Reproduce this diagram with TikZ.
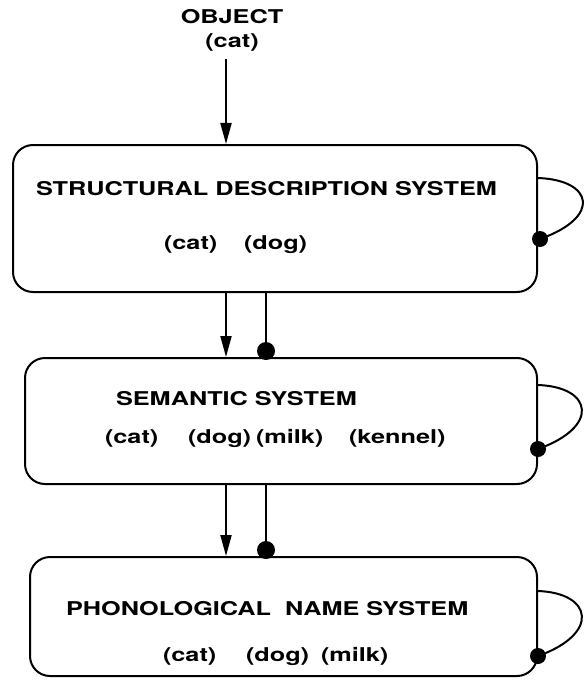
\documentclass[tikz,border=0pt]{standalone}
\usepackage{fontspec}
\setmainfont{TeX Gyre Heros}[FakeStretch=1.33]
\usetikzlibrary{arrows.meta,calc}
\begin{document}
\begin{tikzpicture}[x=1pt,y=-1pt,line width=2pt,
  box/.style={draw,rounded corners=20pt,inner sep=0pt},
  lbl/.style={font=\bfseries\fontsize{19}{21}\selectfont,inner sep=0pt,anchor=base west},
  arr/.style={-{Triangle[length=21pt,width=11pt]}},
  dotc/.style={fill=black,draw=none}]
\useasboundingbox (0,0) rectangle (584,682);
% boxes
\node[box,minimum width=524pt,minimum height=147pt] (b1) at (275,218.5) {};
\node[box,minimum width=512pt,minimum height=126pt] (b2) at (281,421) {};
\node[box,minimum width=507pt,minimum height=119pt] (b3) at (283.5,616.5) {};
% texts
\node[lbl,anchor=base] (obj) at (232,24) {OBJECT};
\node[lbl,anchor=base] (objc) at (232,48) {(cat)};
\node[lbl] (t1) at (35,195) {STRUCTURAL DESCRIPTION SYSTEM};
\node[lbl] (c1a) at (163,249) {(cat)};
\node[lbl] (c1b) at (243,249) {(dog)};
\node[lbl] (t2) at (115,405) {SEMANTIC SYSTEM};
\node[lbl] (c2a) at (104,443) {(cat)};
\node[lbl] (c2b) at (187,443) {(dog)};
\node[lbl] (c2c) at (255,443) {(milk)};
\node[lbl] (c2d) at (348,443) {(kennel)};
\node[lbl] (t3) at (65,615) {PHONOLOGICAL\ \ NAME SYSTEM};
\node[lbl] (c3a) at (162,661) {(cat)};
\node[lbl] (c3b) at (245,661) {(dog)};
\node[lbl] (c3c) at (320,661) {(milk)};
% connector columns
\coordinate (ax) at (226,0);
\coordinate (dx) at (266,0);
\draw[arr,shorten <=6pt] (objc.south -| ax) -- (b1.north -| ax);
\draw[arr] (b1.south -| ax) -- (b2.north -| ax);
\draw[arr] (b2.south -| ax) -- (b3.north -| ax);
\coordinate (d12) at ($(b2.north -| dx)+(0,-6)$);
\coordinate (d23) at ($(b3.north -| dx)+(0,-6)$);
\draw (b1.south -| dx) -- (d12);
\draw (b2.south -| dx) -- (d23);
\fill[dotc] (d12) circle (9pt);
\fill[dotc] (d23) circle (9pt);
% self loops
\coordinate (l1a) at ($(b1.north east)+(0,34)$);
\coordinate (l1b) at ($(b1.north east)+(2,95)$);
\coordinate (l2a) at ($(b2.north east)+(0,28)$);
\coordinate (l2b) at ($(b2.north east)+(0,92)$);
\coordinate (l3a) at ($(b3.north east)+(0,35)$);
\coordinate (l3b) at ($(b3.north east)+(0,100)$);
\draw (l1a) .. controls ($(l1a)+(55,2)$) and ($(l1b)+(62,-22)$) .. (l1b);
\draw (l2a) .. controls ($(l2a)+(55,2)$) and ($(l2b)+(62,-22)$) .. (l2b);
\draw (l3a) .. controls ($(l3a)+(55,2)$) and ($(l3b)+(62,-22)$) .. (l3b);
\fill[dotc] (l1b) circle (8pt);
\fill[dotc] (l2b) circle (8pt);
\fill[dotc] (l3b) circle (8pt);
\end{tikzpicture}
\end{document}
